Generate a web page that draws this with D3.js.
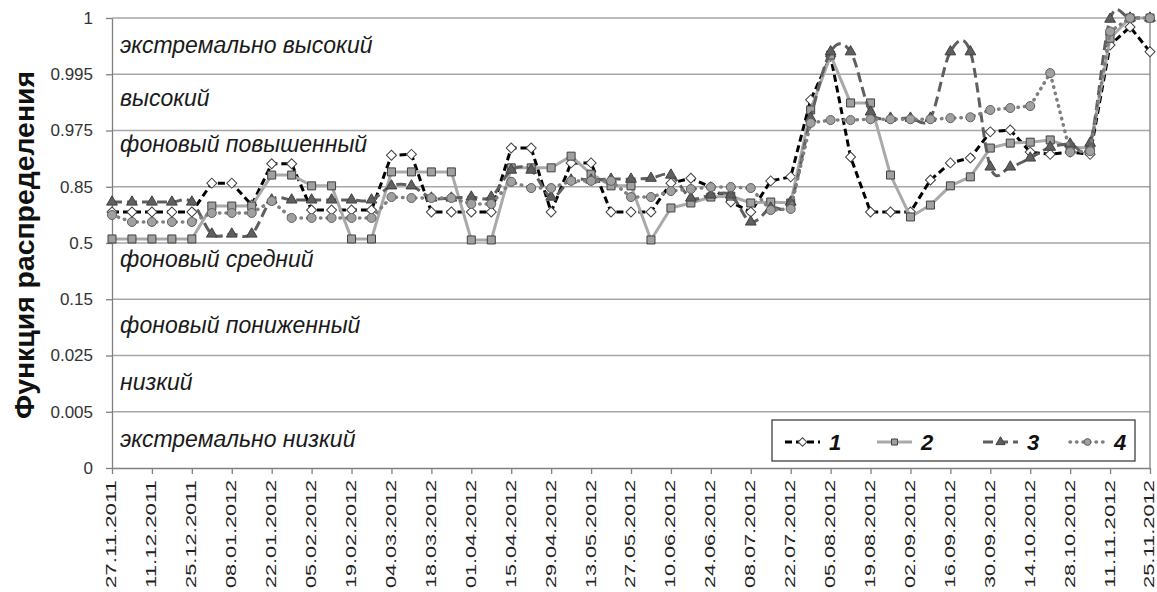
<!DOCTYPE html>
<html>
<head>
<meta charset="utf-8">
<script src="https://cdn.jsdelivr.net/npm/d3@7"></script>
<style>
  body { margin: 0; background: #fff; }
  svg { font-family: "Liberation Sans", Arial, sans-serif; }
</style>
</head>
<body>
<div id="chart"></div>
<script>
// y axis levels (evenly spaced categories of the distribution function)
const levels = [0, 0.005, 0.025, 0.15, 0.5, 0.85, 0.975, 0.995, 1];

// x tick labels, every two weeks
const tickLabels = ['27.11.2011', '11.12.2011', '25.12.2011', '08.01.2012', '22.01.2012', '05.02.2012',
  '19.02.2012', '04.03.2012', '18.03.2012', '01.04.2012', '15.04.2012', '29.04.2012', '13.05.2012',
  '27.05.2012', '10.06.2012', '24.06.2012', '08.07.2012', '22.07.2012', '05.08.2012', '19.08.2012',
  '02.09.2012', '16.09.2012', '30.09.2012', '14.10.2012', '28.10.2012', '11.11.2012', '25.11.2012'];

// zone names, from the top band down
const zoneNames = ['экстремально высокий', 'высокий', 'фоновый повышенный', '',
  'фоновый средний', 'фоновый пониженный', 'низкий', 'экстремально низкий'];

// weekly values, one per week starting 27.11.2011
const fn1 = [0.693, 0.693, 0.693, 0.693, 0.693, 0.858, 0.858, 0.736, 0.901, 0.901, 0.705, 0.705, 0.705, 0.705,
  0.920, 0.922, 0.693, 0.693, 0.693, 0.693, 0.936, 0.936, 0.693, 0.903, 0.903, 0.693, 0.693, 0.693,
  0.858, 0.869, 0.848, 0.755, 0.693, 0.863, 0.872, 0.9859, 0.9966, 0.916, 0.693, 0.693, 0.693, 0.865,
  0.903, 0.914, 0.972, 0.9752, 0.927, 0.922, 0.927, 0.922, 0.9976, 0.9992, 0.9970];
const fn2 = [0.525, 0.525, 0.525, 0.525, 0.525, 0.730, 0.730, 0.730, 0.876, 0.876, 0.852, 0.852, 0.525, 0.525,
  0.883, 0.883, 0.883, 0.883, 0.519, 0.519, 0.892, 0.892, 0.892, 0.918, 0.878, 0.852, 0.852, 0.519,
  0.718, 0.749, 0.786, 0.792, 0.749, 0.755, 0.749, 0.9823, 0.9967, 0.9848, 0.9848, 0.876, 0.662, 0.736,
  0.852, 0.872, 0.936, 0.947, 0.949, 0.954, 0.938, 0.936, 0.9982, 1, 1];
const fn3 = [0.755, 0.755, 0.755, 0.755, 0.755, 0.556, 0.556, 0.556, 0.768, 0.768, 0.768, 0.768, 0.768, 0.768,
  0.852, 0.852, 0.780, 0.780, 0.786, 0.786, 0.887, 0.887, 0.786, 0.865, 0.865, 0.867, 0.867, 0.869,
  0.876, 0.780, 0.799, 0.799, 0.631, 0.718, 0.755, 0.9794, 0.9970, 0.9970, 0.9816, 0.9794, 0.9794, 0.9794,
  0.9970, 0.9970, 0.894, 0.894, 0.914, 0.938, 0.945, 0.947, 0.9999, 1, 1];
const fn4 = [0.674, 0.631, 0.631, 0.631, 0.631, 0.687, 0.687, 0.687, 0.761, 0.656, 0.656, 0.656, 0.656, 0.656,
  0.786, 0.780, 0.780, 0.780, 0.743, 0.743, 0.861, 0.842, 0.842, 0.863, 0.863, 0.863, 0.786, 0.786,
  0.823, 0.836, 0.848, 0.848, 0.842, 0.705, 0.712, 0.9777, 0.9787, 0.9787, 0.9790, 0.9790, 0.9790, 0.9790,
  0.9794, 0.9797, 0.9823, 0.9830, 0.9837, 0.9951, 0.927, 0.929, 0.9988, 1, 1];

const series = [
  { name: '1', values: fn1, color: '#000', width: 3, dash: '7,4', cap: 'butt', smooth: false,
    symbol: 'diamond', fill: '#fff', stroke: '#404040' },
  { name: '2', values: fn2, color: '#a9a9a9', width: 3, dash: null, cap: 'butt', smooth: false,
    symbol: 'square', fill: '#a0a0a0', stroke: '#404040' },
  { name: '3', values: fn3, color: '#5f5f5f', width: 3, dash: '10,5', cap: 'butt', smooth: true,
    symbol: 'triangle', fill: '#5f5f5f', stroke: '#404040' },
  { name: '4', values: fn4, color: '#808080', width: 3.5, dash: '0.5,6', cap: 'round', smooth: false,
    symbol: 'circle', fill: '#a0a0a0', stroke: '#606060' }
];

const W = 1157, H = 592;
const margin = { top: 18, right: 7, bottom: 124, left: 112 };
const width = W - margin.left - margin.right;
const height = H - margin.top - margin.bottom;

const parse = d3.utcParse('%d.%m.%Y');
const fmt = d3.utcFormat('%d.%m.%Y');
const start = parse(tickLabels[0]);
const dates = fn1.map((_, i) => d3.utcDay.offset(start, 7 * i));

const svg = d3.select('#chart').append('svg')
  .attr('width', W)
  .attr('height', H);

const g = svg.append('g')
  .attr('transform', `translate(${margin.left},${margin.top})`);

const x = d3.scaleUtc()
  .domain([start, parse(tickLabels[tickLabels.length - 1])])
  .range([0, width]);

const y = d3.scaleLinear()
  .domain(levels)
  .range(levels.map((d, i) => height - i * height / (levels.length - 1)));

// grid
g.append('g')
  .selectAll('line')
  .data(levels.slice(1))
  .enter()
  .append('line')
  .attr('x1', 0)
  .attr('x2', width)
  .attr('y1', (d) => y(d))
  .attr('y2', (d) => y(d))
  .attr('stroke', '#a6a6a6')
  .attr('stroke-width', 1.3);

// right border of the plot area
g.append('line')
  .attr('x1', width).attr('x2', width)
  .attr('y1', 0).attr('y2', height)
  .attr('stroke', '#808080')
  .attr('stroke-width', 1.3);

// zone labels
const zoneDy = [7, 4, -7, 0, -4, 6, 6, 7];
g.append('g')
  .selectAll('text')
  .data(zoneNames.map((name, i) => ({ name, i })).filter((d) => d.name))
  .enter()
  .append('text')
  .attr('x', 8)
  .attr('y', (d) => (y(levels[8 - d.i]) + y(levels[7 - d.i])) / 2 + zoneDy[d.i])
  .attr('font-size', 23)
  .attr('font-style', 'italic')
  .attr('fill', '#1a1a1a')
  .text((d) => d.name);

// axes
const yAxis = g.append('g')
  .attr('class', 'axis')
  .call(d3.axisLeft(y).tickValues(levels).tickSize(6).tickSizeOuter(0).tickFormat((d) => String(d)));
yAxis.selectAll('text').attr('font-size', 17).attr('fill', '#333').attr('x', -19);

const xAxis = g.append('g')
  .attr('class', 'axis')
  .attr('transform', `translate(0,${height})`)
  .call(d3.axisBottom(x).tickValues(tickLabels.map(parse)).tickSize(6).tickSizeOuter(0).tickFormat(fmt));
xAxis.selectAll('text')
  .attr('font-size', 15.5)
  .attr('fill', '#222')
  .attr('text-anchor', 'end')
  .attr('transform', 'translate(-1.5,12) rotate(-90)')
  .attr('x', 0)
  .attr('y', 0)
  .attr('dy', '0.35em')
  .attr('textLength', 108)
  .attr('lengthAdjust', 'spacingAndGlyphs');

svg.selectAll('.axis path, .axis line').attr('stroke', '#808080').attr('stroke-width', 1.3);

// y title
svg.append('text')
  .attr('transform', `translate(34,${margin.top + height / 2 + 2}) rotate(-90)`)
  .attr('text-anchor', 'middle')
  .attr('font-size', 27)
  .attr('font-weight', 'bold')
  .attr('fill', '#111')
  .attr('textLength', 348)
  .attr('lengthAdjust', 'spacingAndGlyphs')
  .text('Функция распределения');

// markers
const symbolPath = {
  diamond: d3.symbol().type(d3.symbolSquare).size(50)(),
  square: d3.symbol().type(d3.symbolSquare).size(64)(),
  triangle: d3.symbol().type(d3.symbolTriangle).size(50)(),
  circle: d3.symbol().type(d3.symbolCircle).size(64)()
};
const symbolRotate = { diamond: 45, square: 0, triangle: 0, circle: 0 };

series.forEach((s) => {
  const line = d3.line()
    .x((d, i) => x(dates[i]))
    .y((d) => y(d))
    .curve(s.smooth ? d3.curveCardinal.tension(0) : d3.curveLinear);
  const sg = g.append('g').attr('class', 'serie');
  sg.append('path')
    .datum(s.values)
    .attr('d', line)
    .attr('fill', 'none')
    .attr('stroke', s.color)
    .attr('stroke-width', s.width)
    .attr('stroke-dasharray', s.dash)
    .attr('stroke-linecap', s.cap);
  sg.selectAll('path.mark')
    .data(s.values)
    .enter()
    .append('path')
    .attr('class', 'mark')
    .attr('d', symbolPath[s.symbol])
    .attr('transform', (d, i) => `translate(${x(dates[i])},${y(d)}) rotate(${symbolRotate[s.symbol]})`)
    .attr('fill', s.fill)
    .attr('stroke', s.stroke)
    .attr('stroke-width', 1);
});

// legend
const legend = svg.append('g').attr('transform', 'translate(772,420)');
legend.append('rect')
  .attr('width', 363)
  .attr('height', 41)
  .attr('fill', '#fff')
  .attr('stroke', '#404040')
  .attr('stroke-width', 1.3);

const legendX = [13, 105, 211, 298];
series.forEach((s, i) => {
  const lg = legend.append('g').attr('transform', `translate(${legendX[i]},22)`);
  lg.append('line')
    .attr('x1', 0).attr('x2', 35)
    .attr('stroke', s.color)
    .attr('stroke-width', s.width)
    .attr('stroke-dasharray', s.dash)
    .attr('stroke-linecap', s.cap);
  lg.append('path')
    .attr('d', d3.symbol().type(s.symbol === 'circle' ? d3.symbolCircle
      : s.symbol === 'triangle' ? d3.symbolTriangle : d3.symbolSquare).size(36)())
    .attr('transform', `translate(17.5,0) rotate(${symbolRotate[s.symbol]})`)
    .attr('fill', s.fill)
    .attr('stroke', s.stroke);
  lg.append('text')
    .attr('x', 44)
    .attr('y', 8)
    .attr('font-size', 22)
    .attr('font-weight', 'bold')
    .attr('font-style', 'italic')
    .attr('fill', '#111')
    .text(s.name);
});
</script>
</body>
</html>
